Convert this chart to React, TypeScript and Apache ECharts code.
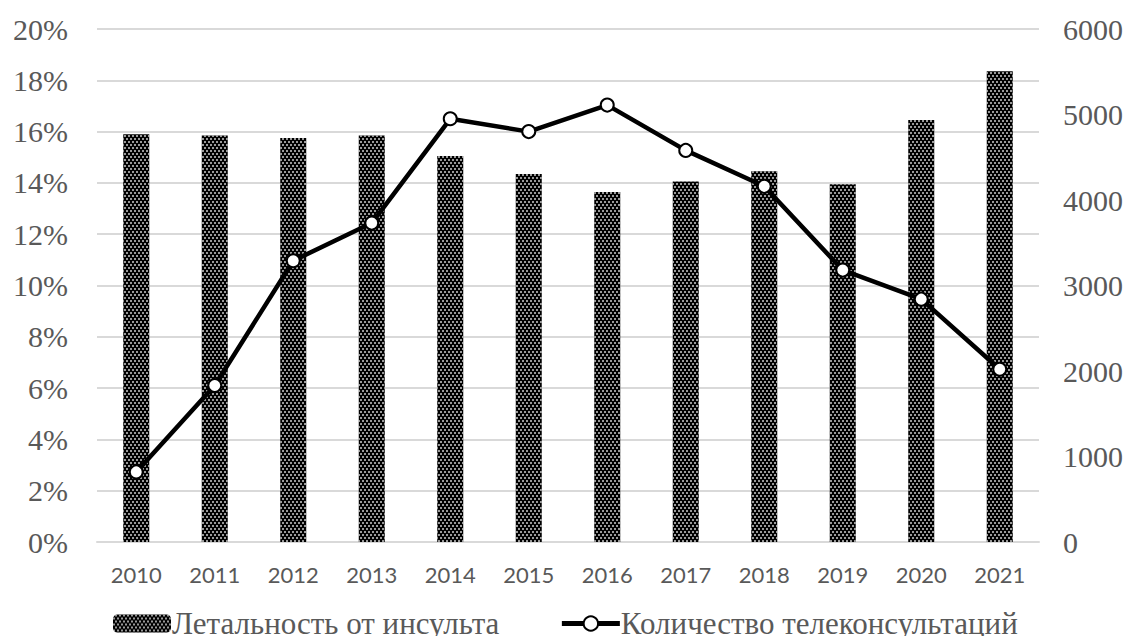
import React, { useEffect, useRef } from "react";
import * as echarts from "echarts";

const years = ["2010", "2011", "2012", "2013", "2014", "2015", "2016", "2017", "2018", "2019", "2020", "2021"];
const mortality = [15.9, 15.85, 15.75, 15.85, 15.05, 14.35, 13.65, 14.05, 14.45, 13.95, 16.45, 18.35];
const teleconsults = [820, 1830, 3290, 3730, 4950, 4800, 5110, 4580, 4160, 3180, 2840, 2020];
const seriesNames = ["Летальность от инсульта", "Количество телеконсультаций"];

const grey = "#595959";
const serif = "Liberation Serif";

export default function App() {
  const ref = useRef<HTMLDivElement>(null);
  useEffect(() => {
    if (!ref.current) return;
    const chart = echarts.init(ref.current, null, { renderer: "svg" });
    const decal = {
      symbol: "rect",
      symbolSize: 1,
      color: "rgba(255,255,255,0.6)",
      dashArrayX: [[2, 2], [0, 2, 2, 0]],
      dashArrayY: [2, 1],
    };
    chart.setOption({
      animation: false,
      backgroundColor: "#fff",
      grid: { left: 97, right: 93, top: 29, bottom: 102 },
      legend: {
        left: 108,
        top: 603,
        itemGap: 60,
        itemWidth: 58,
        itemHeight: 18,
        textStyle: { fontFamily: serif, fontSize: 31, color: grey, padding: [0, 0, 0, -4] },
        data: [
          { name: seriesNames[0] },
          {
            name: seriesNames[1],
            lineStyle: { width: 5, color: "#000" },
            itemStyle: { color: "#fff", borderColor: "#000", borderWidth: 2 },
          },
        ],
      },
      xAxis: {
        type: "category",
        data: years,
        axisTick: { show: false },
        axisLine: { lineStyle: { color: "#d9d9d9", width: 2 } },
        axisLabel: { color: grey, fontFamily: "Lato", fontSize: 22, margin: 21 },
      },
      yAxis: [
        {
          type: "value",
          min: 0,
          max: 20,
          interval: 2,
          axisLine: { show: false },
          axisTick: { show: false },
          splitLine: { lineStyle: { color: "#d9d9d9", width: 2 } },
          axisLabel: {
            formatter: "{value}%",
            color: grey,
            fontFamily: serif,
            fontSize: 30,
            margin: 29,
          },
        },
        {
          type: "value",
          min: 0,
          max: 6000,
          interval: 1000,
          axisLine: { show: false },
          axisTick: { show: false },
          splitLine: { show: false },
          axisLabel: {
            formatter: (v: number) => String(v),
            color: grey,
            fontFamily: serif,
            fontSize: 30,
            margin: 24,
          },
        },
      ],
      series: [
        {
          name: seriesNames[0],
          type: "bar",
          data: mortality,
          barWidth: 26,
          itemStyle: { color: "#000", decal },
        },
        {
          name: seriesNames[1],
          type: "line",
          yAxisIndex: 1,
          data: teleconsults,
          symbol: "circle",
          symbolSize: 13,
          lineStyle: { color: "#000", width: 4.5 },
          itemStyle: { color: "#fff", borderColor: "#000", borderWidth: 2 },
        },
      ],
    });
    return () => chart.dispose();
  }, []);
  return <div ref={ref} style={{ width: 1132, height: 644, margin: -8 }} />;
}
